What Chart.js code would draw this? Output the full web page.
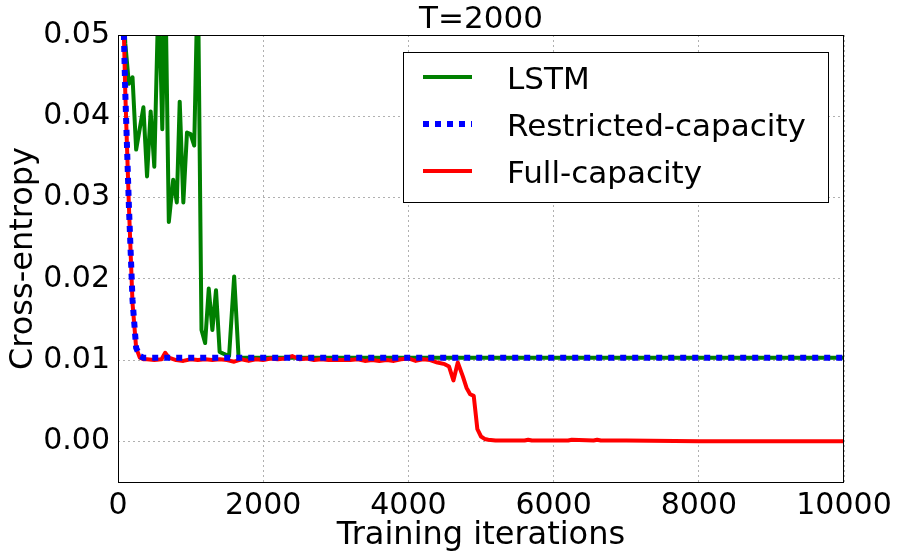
<!DOCTYPE html>
<html>
<head>
<meta charset="utf-8">
<script src="https://cdn.jsdelivr.net/npm/chart.js@4/dist/chart.umd.min.js"></script>
<style>
  html, body { margin: 0; padding: 0; background: #fff; }
  #wrap { width: 901px; height: 560px; }
</style>
</head>
<body>
<div id="wrap"><canvas id="chartContainer" width="901" height="560"></canvas></div>
<script>
// data
const lstmIters = [0, 50, 100, 150, 200, 250, 300, 350, 400, 450, 500, 560, 610, 650, 700, 760, 810, 850, 900, 950, 1000, 1050, 1100, 1150, 1200, 1250, 1300, 1350, 1400, 1450, 1530, 1600, 1660, 1700, 2000, 4000, 6000, 8000, 10000];
const lstmLoss = [0.085, 0.062, 0.049, 0.044, 0.0448, 0.0359, 0.0385, 0.0411, 0.0326, 0.0406, 0.0338, 0.056, 0.0384, 0.058, 0.027, 0.0322, 0.0294, 0.0418, 0.0294, 0.038, 0.0378, 0.0364, 0.058, 0.0137, 0.0121, 0.0188, 0.0137, 0.0186, 0.011, 0.0108, 0.0105, 0.0203, 0.0105, 0.0103, 0.0103, 0.0103, 0.0103, 0.0103, 0.0103];

const restrictedIters = [0, 50, 100, 150, 200, 250, 300, 350, 10000];
const restrictedLoss = [0.09, 0.062, 0.043, 0.029, 0.0174, 0.0115, 0.0105, 0.0103, 0.0103];

const fullIters = [0, 50, 100, 150, 200, 250, 300, 350, 400, 500, 600, 650, 700, 800, 900, 1000, 1100, 1200, 1300, 1400, 1500, 1600, 1700, 1800, 1900, 2000, 2100, 2200, 2300, 2400, 2500, 2600, 2700, 2800, 2900, 3000, 3100, 3200, 3300, 3400, 3500, 3600, 3700, 3800, 3900, 4000, 4100, 4200, 4300, 4400, 4500, 4560, 4620, 4680, 4750, 4800, 4850, 4900, 4950, 5000, 5050, 5100, 5200, 5400, 5600, 5650, 5700, 6000, 6200, 6250, 6550, 6600, 6650, 7000, 8000, 9000, 10000];
const fullLoss = [0.09, 0.062, 0.043, 0.029, 0.017, 0.0115, 0.0103, 0.0101, 0.0101, 0.0100, 0.0101, 0.0109, 0.0103, 0.0100, 0.0099, 0.0101, 0.0100, 0.0101, 0.0100, 0.0101, 0.0100, 0.0098, 0.0101, 0.0099, 0.0101, 0.0100, 0.0102, 0.0101, 0.0102, 0.0105, 0.0101, 0.0102, 0.0100, 0.0101, 0.0100, 0.0100, 0.0100, 0.0100, 0.0101, 0.0099, 0.0100, 0.0099, 0.0100, 0.0099, 0.0101, 0.0102, 0.0099, 0.0101, 0.0100, 0.0097, 0.0095, 0.0092, 0.0075, 0.0097, 0.0080, 0.0066, 0.0058, 0.0056, 0.0015, 0.0006, 0.0003, 0.0002, 0.0001, 0.0001, 0.0001, 0.0002, 0.0001, 0.0001, 0.0001, 0.0002, 0.0001, 0.0002, 0.0001, 0.0001, 0.0, 0.0, 0.0];

const xTicks = [0, 2000, 4000, 6000, 8000, 10000];
const yTicks = [0.00, 0.01, 0.02, 0.03, 0.04, 0.05];

const seriesNames = ['LSTM', 'Restricted-capacity', 'Full-capacity'];
const seriesColors = ['#008000', '#0000ff', '#ff0000'];

const FONT = '"DejaVu Sans", sans-serif';

function toPoints(xs, ys) {
    return xs.map((x, i) => ({ x: x, y: ys[i] }));
}

// frame, title and the in-plot legend
const decorations = {
    id: 'decorations',
    afterDraw(chart) {
        const ctx = chart.ctx;
        const a = chart.chartArea;
        ctx.save();
        ctx.strokeStyle = '#000';
        ctx.lineWidth = 1;
        ctx.strokeRect(a.left + 0.5, a.top + 0.5, a.right - a.left - 1, a.bottom - a.top);

        ctx.fillStyle = '#000';
        ctx.font = '31px ' + FONT;
        ctx.textAlign = 'center';
        ctx.textBaseline = 'middle';
        ctx.fillText('T=2000', (a.left + a.right) / 2, 20);

        // legend box
        const bx = 403, by = 52, bw = 425, bh = 150;
        ctx.fillStyle = '#fff';
        ctx.fillRect(bx, by, bw, bh);
        ctx.strokeRect(bx + 0.5, by + 0.5, bw, bh);
        const rows = [77, 124, 171];
        const baselines = [89, 136, 183];
        ctx.font = '31px ' + FONT;
        ctx.textBaseline = 'alphabetic';
        rows.forEach((ry, i) => {
            ctx.beginPath();
            ctx.strokeStyle = seriesColors[i];
            if (i === 1) {
                ctx.lineWidth = 6;
                ctx.setLineDash([6, 6]);
            } else {
                ctx.lineWidth = 4;
                ctx.setLineDash([]);
            }
            ctx.lineCap = 'butt';
            ctx.moveTo(423, ry);
            ctx.lineTo(472, ry);
            ctx.stroke();
            ctx.setLineDash([]);
            ctx.fillStyle = '#000';
            ctx.textAlign = 'left';
            ctx.fillText(seriesNames[i], 507, baselines[i]);
        });
        ctx.restore();
    }
};

const ctx = document.getElementById('chartContainer').getContext('2d');
new Chart(ctx, {
    type: 'line',
    data: {
        datasets: [
            {
                label: seriesNames[0],
                data: toPoints(lstmIters, lstmLoss),
                borderColor: seriesColors[0],
                borderWidth: 4,
                order: 3
            },
            {
                label: seriesNames[1],
                data: toPoints(restrictedIters, restrictedLoss),
                borderColor: seriesColors[1],
                borderWidth: 6,
                borderDash: [6, 6],
                borderCapStyle: 'butt',
                order: 1
            },
            {
                label: seriesNames[2],
                data: toPoints(fullIters, fullLoss),
                borderColor: seriesColors[2],
                borderWidth: 4,
                order: 2
            }
        ]
    },
    options: {
        responsive: false,
        animation: false,
        events: [],
        elements: {
            point: { radius: 0 },
            line: { tension: 0, borderJoinStyle: 'round', fill: false }
        },
        layout: { padding: { top: 35, right: 57, left: 0, bottom: 0 } },
        plugins: {
            legend: { display: false },
            tooltip: { enabled: false },
            title: { display: false }
        },
        scales: {
            x: {
                type: 'linear',
                min: 0,
                max: 10000,
                afterFit(scale) { scale.height = 78; },
                afterBuildTicks(scale) { scale.ticks = xTicks.map(v => ({ value: v })); },
                grid: { color: '#b0b0b0', lineWidth: 1, drawTicks: false },
                border: { display: false, dash: [2, 3] },
                ticks: {
                    color: '#000',
                    font: { family: FONT, size: 30 },
                    padding: 6,
                    maxRotation: 0,
                    callback: v => String(v)
                },
                title: {
                    display: true,
                    text: 'Training iterations',
                    color: '#000',
                    font: { family: FONT, size: 32 },
                    padding: { top: 0, bottom: 5 }
                }
            },
            y: {
                type: 'linear',
                min: -0.005,
                max: 0.05,
                afterFit(scale) { scale.width = 118; },
                afterBuildTicks(scale) { scale.ticks = yTicks.map(v => ({ value: v })); },
                grid: { color: '#b0b0b0', lineWidth: 1, drawTicks: false },
                border: { display: false, dash: [2, 3] },
                ticks: {
                    color: '#000',
                    font: { family: FONT, size: 30 },
                    padding: 8,
                    callback: v => v.toFixed(2)
                },
                title: {
                    display: true,
                    text: 'Cross-entropy',
                    color: '#000',
                    font: { family: FONT, size: 32 },
                    padding: { top: 4, bottom: 0 }
                }
            }
        }
    },
    plugins: [decorations]
});
</script>
</body>
</html>
